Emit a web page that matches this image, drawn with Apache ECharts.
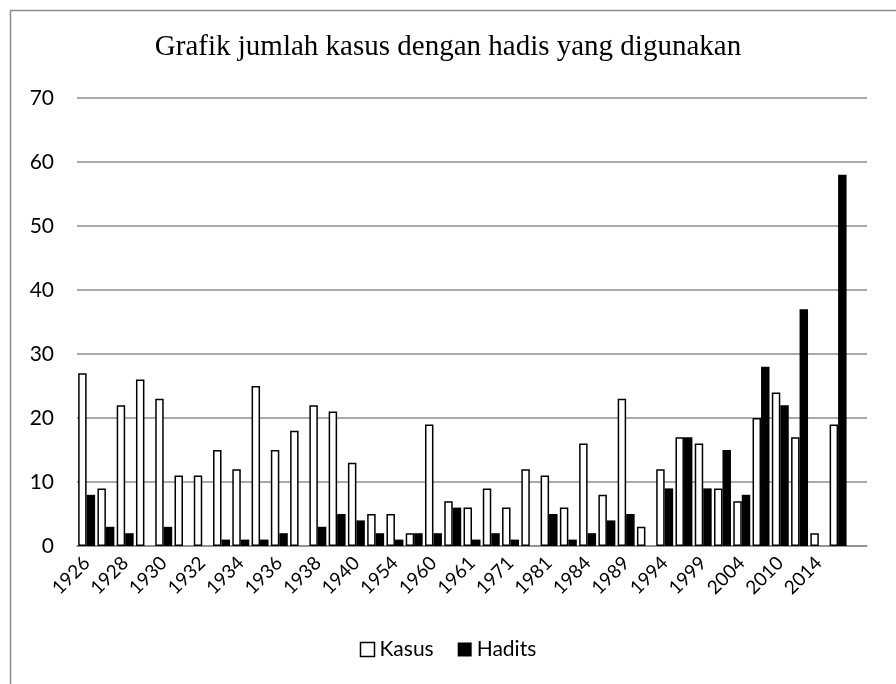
<!DOCTYPE html>
<html>
<head>
<meta charset="utf-8">
<script src="https://cdn.jsdelivr.net/npm/echarts@6/dist/echarts.min.js"></script>
<style>
html,body{margin:0;padding:0;background:#fff;}
#chart{width:896px;height:684px;}
</style>
</head>
<body>
<div id="chart"></div>
<script>
// Category labels (only every other one is shown in the original; hidden ones left blank)
var categories = ['1926','','1928','','1930','','1932','','1934','','1936','','1938','','1940','','1954','','1960','','1961','','1971','','1981','','1984','','1989','','1994','','1999','','2004','','2010','','2014','',''];
var kasus  = [27,9,22,26,23,11,11,15,12,25,15,18,22,21,13,5,5,2,19,7,6,9,6,12,11,6,16,8,23,3,12,17,16,9,7,20,24,17,2,19,null];
var hadits = [8,3,2,0,3,0,0,1,1,1,2,0,3,5,4,2,1,2,2,6,1,2,1,0,5,1,2,4,5,0,9,17,9,15,8,28,22,37,0,58,null];
var yTicks = {min:0, max:70, interval:10};
var titleText = 'Grafik jumlah kasus dengan hadis yang digunakan';
var seriesNames = ['Kasus','Hadits'];

var chart = echarts.init(document.getElementById('chart'), null, {renderer:'canvas'});
chart.setOption({
  animation:false,
  backgroundColor:'#ffffff',
  graphic:[{
    type:'rect', left:8, top:8,
    shape:{width:1000, height:1000},
    style:{fill:'none', stroke:'#8c8c8c', lineWidth:1.5},
    silent:true
  }],
  title:{
    text:titleText, left:'center', top:28,
    textStyle:{fontFamily:'Liberation Serif', fontSize:29, fontWeight:'normal', color:'#000', textShadowColor:'#000', textShadowBlur:0, textShadowOffsetX:0.6}
  },
  legend:{
    data:seriesNames, bottom:19, left:'center',
    icon:'rect', itemWidth:14, itemHeight:14, itemGap:24, itemStyle:{borderWidth:1.5},
    textStyle:{fontFamily:'Lato', fontSize:21, color:'#000'}
  },
  grid:{left:77, right:29, top:98, bottom:138, containLabel:false},
  xAxis:{
    type:'category', data:categories,
    axisLine:{show:true, lineStyle:{color:'#8c8c8c', width:1.5}},
    axisTick:{show:false},
    axisLabel:{interval:0, rotate:45, fontFamily:'Lato', fontSize:19, color:'#000', margin:14}
  },
  yAxis:{
    type:'value', min:yTicks.min, max:yTicks.max, interval:yTicks.interval,
    axisLine:{show:false}, axisTick:{show:false},
    splitLine:{lineStyle:{color:'#8c8c8c', width:1.5}},
    axisLabel:{fontFamily:'Lato', fontSize:21, color:'#000', margin:23}
  },
  series:[
    {name:seriesNames[0], type:'bar', data:kasus, barGap:'0%', barCategoryGap:'12%',
     itemStyle:{color:'#ffffff', borderColor:'#000', borderWidth:1.5}},
    {name:seriesNames[1], type:'bar', data:hadits, barGap:'0%', barCategoryGap:'12%',
     itemStyle:{color:'#000000', borderWidth:0}}
  ]
});
</script>
</body>
</html>
